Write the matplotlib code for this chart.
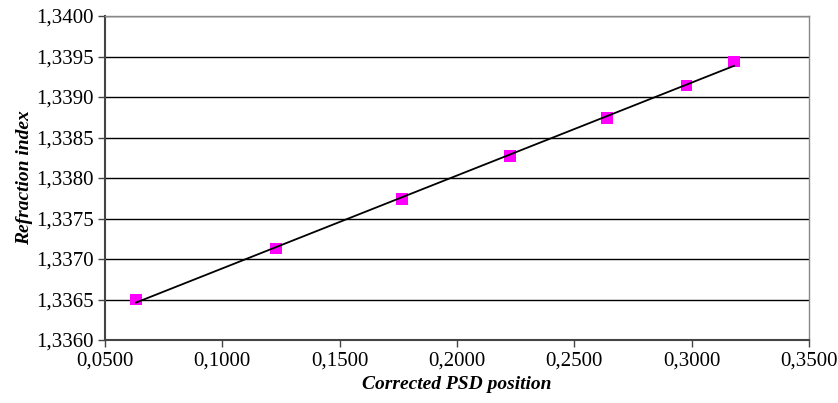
import numpy as np
import matplotlib
matplotlib.use("Agg")
import matplotlib.pyplot as plt
from matplotlib.ticker import FuncFormatter, MultipleLocator

psd_position = [0.0632, 0.1229, 0.1765, 0.2226, 0.2640, 0.2977, 0.3180]
refraction_index = [1.33650, 1.33713, 1.33774, 1.33827, 1.33874, 1.33914, 1.33944]

x_label = "Corrected PSD position"
y_label = "Refraction index"

plt.rcParams['font.family'] = ['Liberation Serif', 'DejaVu Serif']

fig = plt.figure(figsize=(8.38, 4.03), dpi=100)
ax = fig.add_axes([105/838, 1-340/403, (809-105)/838, (340-16)/403])

x = np.array(psd_position)
y = np.array(refraction_index)
slope, intercept = np.polyfit(x, y, 1)
xl = np.array([x.min(), x.max()])
ax.plot(xl, slope*xl + intercept, color='black', lw=1.3, zorder=3)
ax.scatter(x, y, marker='s', s=68, color='#FF00FF', edgecolors='none', zorder=2)

ax.set_xlim(0.05, 0.35)
ax.set_ylim(1.336, 1.340)
ax.xaxis.set_major_locator(MultipleLocator(0.05))
ax.yaxis.set_major_locator(MultipleLocator(0.0005))
fmt = FuncFormatter(lambda v, p: f"{v:.4f}".replace('.', ','))
ax.xaxis.set_major_formatter(fmt)
ax.yaxis.set_major_formatter(fmt)

ax.yaxis.grid(True, color='black', lw=1.0)
ax.set_axisbelow(True)
for s in ['top', 'right']:
    ax.spines[s].set_color('#888888')
    ax.spines[s].set_linewidth(1.0)
for s in ['left', 'bottom']:
    ax.spines[s].set_color('#444444')
    ax.spines[s].set_linewidth(1.5)
ax.tick_params(axis='both', direction='out', length=5, width=1.0, color='#444444', labelsize=15, pad=3)

ax.set_xlabel(x_label, fontsize=14, fontweight='bold', fontstyle='italic', labelpad=4)
ax.set_ylabel(y_label, fontsize=14, fontweight='bold', fontstyle='italic', labelpad=2)

fig.savefig("out.png", dpi=100)
